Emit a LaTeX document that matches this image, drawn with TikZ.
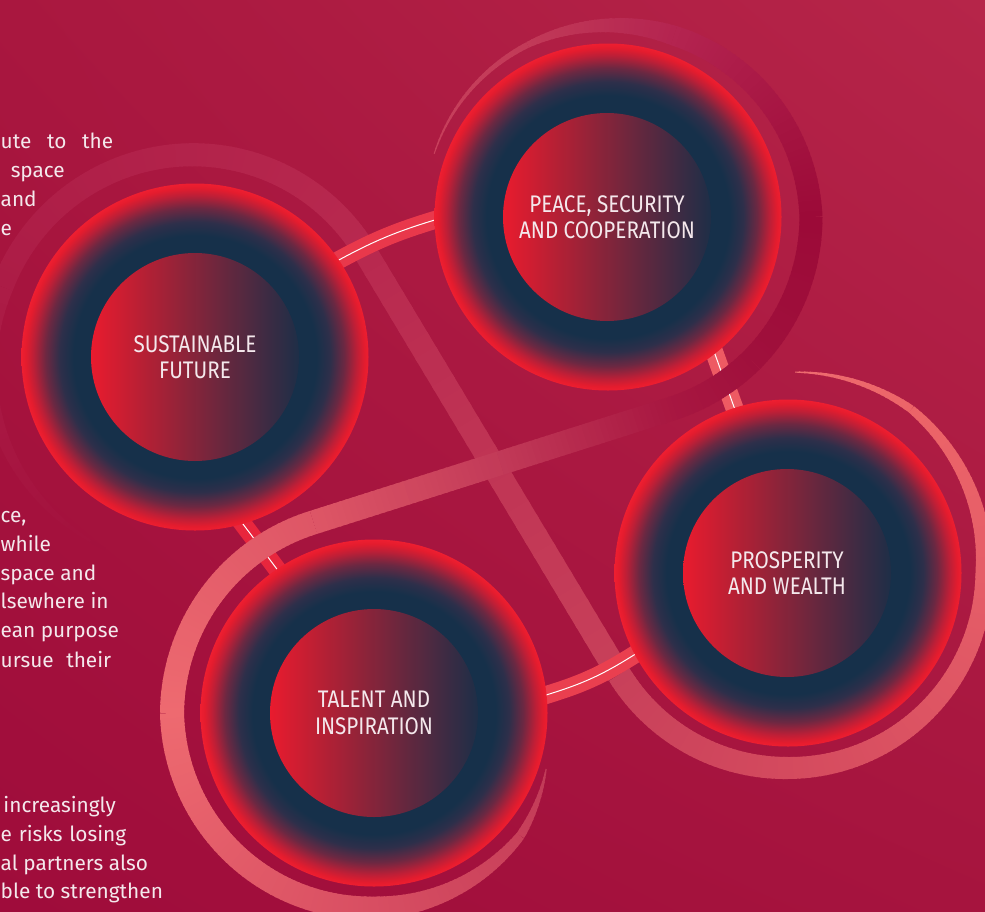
\documentclass[tikz,border=0pt]{standalone}
\usepackage{fontspec}
\setmainfont{Fira Sans}
\newfontfamily\labelfont[FakeStretch=0.86]{Fira Sans}
\usetikzlibrary{shadings}
\definecolor{navy}{HTML}{16304A}
\definecolor{ringA}{HTML}{2E2F4A}
\definecolor{ringB}{HTML}{6C2842}
\definecolor{ringC}{HTML}{BC1F37}
\definecolor{ringD}{HTML}{E41C2E}
\definecolor{rimred}{HTML}{EE1E30}
\definecolor{discred}{HTML}{E91B2E}
\definecolor{discnavy}{HTML}{1E2E47}
\definecolor{textw}{HTML}{F4E8EC}
\definecolor{bgUL}{HTML}{A9173F}
\definecolor{bgUR}{HTML}{B62549}
\definecolor{bgLL}{HTML}{9F0C3B}
\definecolor{bgLR}{HTML}{A6143E}
\definecolor{barA}{HTML}{E9384B}
\definecolor{barB}{HTML}{EE5A63}
\definecolor{barC}{HTML}{EA3F4F}
\definecolor{barD}{HTML}{E8263D}
\pgfdeclareradialshading{ringshade}{\pgfpointorigin}{color(0bp)=(navy); color(17.5bp)=(navy); color(19.5bp)=(ringA); color(21.5bp)=(ringB); color(23.3bp)=(ringC); color(24.4bp)=(ringD); color(25bp)=(rimred); color(50bp)=(rimred)}
\pgfdeclarelayer{lone}
\pgfdeclarelayer{ltwo}
\pgfdeclarelayer{lthree}
\pgfsetlayers{lone,ltwo,lthree,main}
\newcommand\gcol[2]{\definecolor{gcA}{HTML}{#1}\definecolor{gcB}{HTML}{#2}}
% gradient arc: cx cy r0 r1 a0 a1 w0 w1
\newcommand\garc[8]{%
  \pgfmathtruncatemacro\gN{max(2,round(abs(#6-#5)/1.5))}%
  \foreach \k in {1,...,\gN}{%
    \pgfmathsetmacro\gt{(\k-1)/\gN}%
    \pgfmathsetmacro\gu{min(1,(\k+0.3)/\gN)}%
    \pgfmathsetmacro\gaa{#5+(#6-#5)*\gt}%
    \pgfmathsetmacro\gab{#5+(#6-#5)*\gu}%
    \pgfmathsetmacro\gra{#3+(#4-#3)*\gt}%
    \pgfmathsetmacro\grb{#3+(#4-#3)*\gu}%
    \pgfmathsetmacro\gw{#7+(#8-#7)*(\k-0.5)/\gN}%
    \pgfmathtruncatemacro\gp{round(100*(\k-0.5)/\gN)}%
    \draw[line width=\gw pt, draw=gcB!\gp!gcA] ({#1+\gra*cos(\gaa)},{#2+\gra*sin(\gaa)}) -- ({#1+\grb*cos(\gab)},{#2+\grb*sin(\gab)});
  }}
% gradient straight band: x0 y0 x1 y1 w
\newcommand\gline[5]{%
  \foreach \k in {1,...,30}{%
    \pgfmathsetmacro\gt{(\k-1)/30}%
    \pgfmathsetmacro\gu{min(1,(\k+0.3)/30)}%
    \pgfmathtruncatemacro\gp{round(100*(\k-0.5)/30)}%
    \draw[line width=#5pt, draw=gcB!\gp!gcA] ({#1+(#3-#1)*\gt},{#2+(#4-#2)*\gt}) -- ({#1+(#3-#1)*\gu},{#2+(#4-#2)*\gu});
  }}
\begin{document}
\begin{tikzpicture}[x=1pt,y=-1pt,
  bar/.style={line width=8.5pt, double=white, double distance=1pt, shorten <=-6pt, shorten >=-6pt},
  ring/.style={circle, minimum size=347pt, inner sep=0pt, outer sep=0pt, shade, shading=ringshade},
  disc/.style={circle, minimum size=208pt, inner sep=0pt, left color=discred, right color=discnavy, text=textw, align=center, font=\labelfont\fontsize{24}{26.5}\selectfont},
  body/.style={inner sep=0pt, text=textw, font=\fontsize{20.8}{24}\selectfont}]
\useasboundingbox (0,0) rectangle (985,911);
\begin{pgfonlayer}{lone}
\shade[upper left=bgUL, upper right=bgUR, lower left=bgLL, lower right=bgLR] (0,0) rectangle (985,911);
% spiral B: Sustainable halo -> diagonal -> Prosperity ring
\gcol{A3113D}{AC1C46}\garc{195}{357}{212}{205}{115}{200}{2}{22}
\gcol{AC1C46}{B8294F}\garc{195}{357}{205}{200}{200}{329}{22}{24}
\gcol{B8294F}{C8405A}\gline{366.5}{254.1}{618.7}{674.6}{24}
\gcol{C8405A}{D44A5E}\garc{788}{573}{197}{195}{149}{90}{24}{22}
\gcol{D44A5E}{E65E68}\garc{788}{573}{195}{196}{90}{0}{22}{17}
\gcol{E65E68}{EC6468}\garc{788}{573}{196}{205}{0}{-53}{17}{8}
\gcol{EC6468}{EE6C70}\garc{788}{573}{205}{201}{-53}{-88}{8}{1}
\end{pgfonlayer}
\begin{pgfonlayer}{lthree}
% spiral A: Peace ring -> S band -> Talent loop
\gcol{C8405C}{C23A58}\garc{608}{217}{185}{190}{200}{245}{1}{6}
\gcol{C23A58}{B42450}\garc{608}{217}{190}{193}{245}{290}{6}{20}
\gcol{B42450}{9C0A38}\garc{608}{217}{193}{203}{290}{360}{20}{23}
\gcol{9C0A38}{A0103C}\garc{608}{217}{203}{203}{360}{405}{23}{24}
\gcol{A0103C}{A81741}\garc{608}{217}{203}{202}{405}{432.4}{24}{24}
\gcol{A81741}{C23A58}\gline{669.1}{409.5}{500.2}{463.1}{24}
\gcol{C23A58}{DE5666}\gline{500.2}{463.1}{313.5}{522.4}{24}
\gcol{DE5666}{EE6A70}\garc{374}{713}{200}{202}{252.4}{180}{24}{24}
\gcol{EE6A70}{D84E62}\garc{374}{713}{202}{195}{180}{90}{24}{23}
\gcol{D84E62}{C8405A}\garc{374}{713}{195}{191}{90}{40}{23}{9}
\gcol{C8405A}{C03A58}\garc{374}{713}{191}{181}{40}{18}{9}{1}
\end{pgfonlayer}
% circles
\node[ring] (sust) at (195,357) {};
\node[ring] (peace) at (608,217) {};
\node[ring] (prosp) at (788,573) {};
\node[ring] (talent) at (374,713) {};
\node[disc] (sustin) at (195,357) {SUSTAINABLE\\FUTURE};
\node[disc] (peacein) at (607,217) {PEACE, SECURITY\\AND COOPERATION};
\node[disc] (prospin) at (787,573) {PROSPERITY\\AND WEALTH};
\node[disc] (talentin) at (374,713) {TALENT AND\\INSPIRATION};
% connectors
\begin{pgfonlayer}{ltwo}
\draw[bar, draw=barA] (sust.34) to[bend left=6] (peace.181);
\draw[bar, draw=barB] (peace.-52) -- (prosp.108);
\draw[bar, draw=barC] (prosp.208) to[bend left=8] (talent.6);
\draw[bar, draw=barD] (talent.124.5) -- (sust.-74);
\end{pgfonlayer}
% body text fragments
\node[body, anchor=base west] (ta1) at (0.5,148) {\hbox to 112.5pt{ute\hfill to\hfill the}};
\node[body, anchor=base east] (ta2) at (65,177) {space};
\node[body, anchor=base west] (ta3) at (0.5,206) {and};
\node[body, anchor=base west] (ta4) at (0.5,235) {e};
\node[body, anchor=base west] (tb1) at (0.5,522) {ce,};
\node[body, anchor=base west] (tb2) at (0.5,551) {while};
\node[body, anchor=base west] (tb3) at (0.5,580) {space and};
\node[body, anchor=base west] (tb4) at (0.5,608) {lsewhere in};
\node[body, anchor=base west] (tb5) at (0.5,637) {ean purpose};
\node[body, anchor=base west] (tb6) at (0.5,667) {\hbox to 110.5pt{ursue\hfill their}};
\node[body, anchor=base east] (tc1) at (116,812) {increasingly};
\node[body, anchor=base west] (tc2) at (0.5,841) {\hbox to 125.5pt{e\hfill risks\hfill losing}};
\node[body, anchor=base west] (tc3) at (0.5,870) {al partners also};
\node[body, anchor=base west] (tc4) at (0.5,898) {ble to strengthen};
\end{tikzpicture}
\end{document}
